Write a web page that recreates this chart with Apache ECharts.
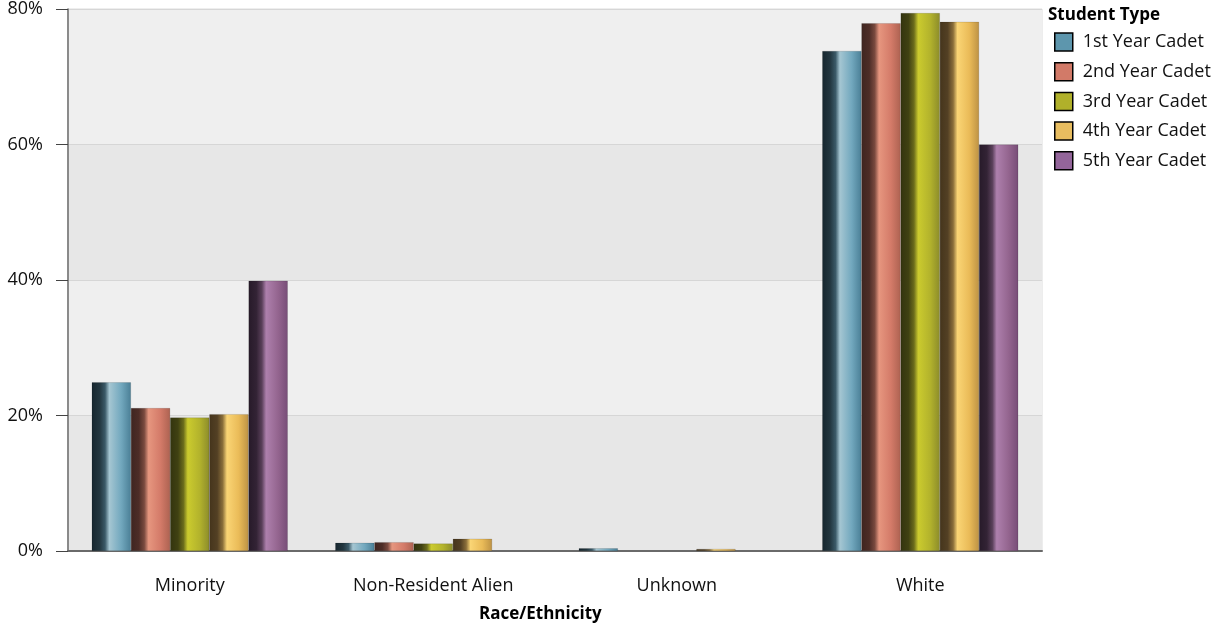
<!DOCTYPE html>
<html><head><meta charset="utf-8">
<script src="https://cdn.jsdelivr.net/npm/echarts@6/dist/echarts.min.js"></script>
<style>html,body{margin:0;padding:0;background:#fff}#c{width:1217px;height:627px}</style>
</head><body><div id="c"></div>
<script>
const categories = ["Minority", "Non-Resident Alien", "Unknown", "White"];
const seriesNames = ["1st Year Cadet", "2nd Year Cadet", "3rd Year Cadet", "4th Year Cadet", "5th Year Cadet"];
const year1 = [24.9, 1.2, 0.4, 73.8];
const year2 = [21.1, 1.3, 0, 77.9];
const year3 = [19.7, 1.1, 0, 79.4];
const year4 = [20.2, 1.8, 0.3, 78.1];
const year5 = [39.9, 0, 0, 60.0];
const yTicks = [0, 20, 40, 60, 80];

const values = [year1, year2, year3, year4, year5];
const palettes = [
  ['#16262e', '#22363f', '#3b5a68', '#a5c6d2', '#72a8be', '#4a7f96'],
  ['#3f2520', '#4d2d27', '#7a4a3f', '#e6967f', '#d47b69', '#ad6251'],
  ['#33340e', '#404112', '#6b6c1c', '#cbcb2e', '#b3b32c', '#8c8c2a'],
  ['#45351c', '#534024', '#8a6e3a', '#fad575', '#eabb58', '#bd9244'],
  ['#271a29', '#332335', '#5a405a', '#ae80ad', '#94658f', '#774d77']
];
const flat = ['#5d96ad', '#d27a68', '#b0b02a', '#e8bd60', '#93659a'];

function grad(p) {
  return new echarts.graphic.LinearGradient(0, 0, 1, 0, [
    {offset: 0, color: p[0]}, {offset: 0.2, color: p[1]},
    {offset: 0.34, color: p[2]}, {offset: 0.45, color: p[3]},
    {offset: 0.75, color: p[4]}, {offset: 1, color: p[5]}
  ]);
}

const chart = echarts.init(document.getElementById('c'), null, {renderer: 'canvas'});
const font = '"Open Sans", "Noto Sans", sans-serif';
chart.setOption({
  animation: false,
  textStyle: {fontFamily: font},
  grid: {left: 68, right: 175, top: 8, bottom: 76, containLabel: false, show: true, borderColor: '#dcdcdc', borderWidth: 1, backgroundColor: 'transparent'},
  legend: {
    orient: 'vertical', left: 1049, top: 25, itemWidth: 18, itemHeight: 18, itemGap: 5.7,
    textStyle: {fontSize: 18, color: '#111', fontFamily: font, lineHeight: 24, padding: [0, 0, 0, 5]},
    data: seriesNames.map((n, i) => ({name: n, icon: 'rect', itemStyle: {color: flat[i], borderColor: '#000', borderWidth: 1.5}}))
  },
  graphic: [
    {type: 'text', left: 1048, top: 7, style: {text: 'Student Type', font: 'bold 17px ' + font, fill: '#000'}},
    {type: 'text', left: 479, top: 606, style: {text: 'Race/Ethnicity', font: 'bold 17px ' + font, fill: '#000'}}
  ],
  xAxis: {
    type: 'category', data: categories,
    axisLine: {lineStyle: {color: '#6a6a6a', width: 2}},
    axisTick: {alignWithLabel: true, length: 10, lineStyle: {color: '#6a6a6a', width: 1.5}},
    axisLabel: {fontSize: 18, color: '#111', margin: 26}
  },
  yAxis: {
    type: 'value', min: 0, max: 80, interval: 20,
    axisLine: {show: true, lineStyle: {color: '#6a6a6a', width: 1.5}},
    axisTick: {show: true, length: 12, lineStyle: {color: '#444', width: 1}},
    axisLabel: {fontSize: 18, color: '#111', margin: 25, formatter: v => yTicks.includes(v) ? v + '%' : ''},
    splitLine: {show: true, lineStyle: {color: '#d6d6d6', width: 1}},
    splitArea: {show: true, areaStyle: {color: ['#e7e7e7', '#efefef']}}
  },
  series: seriesNames.map((n, i) => ({
    name: n, type: 'bar', data: values[i].map(v => v === 0 ? '-' : v),
    barGap: '0%', barCategoryGap: '19.5%',
    itemStyle: {color: grad(palettes[i]), borderColor: 'rgba(0,0,0,0.25)', borderWidth: 0.5},
    emphasis: {disabled: true}
  }))
});
</script></body></html>
